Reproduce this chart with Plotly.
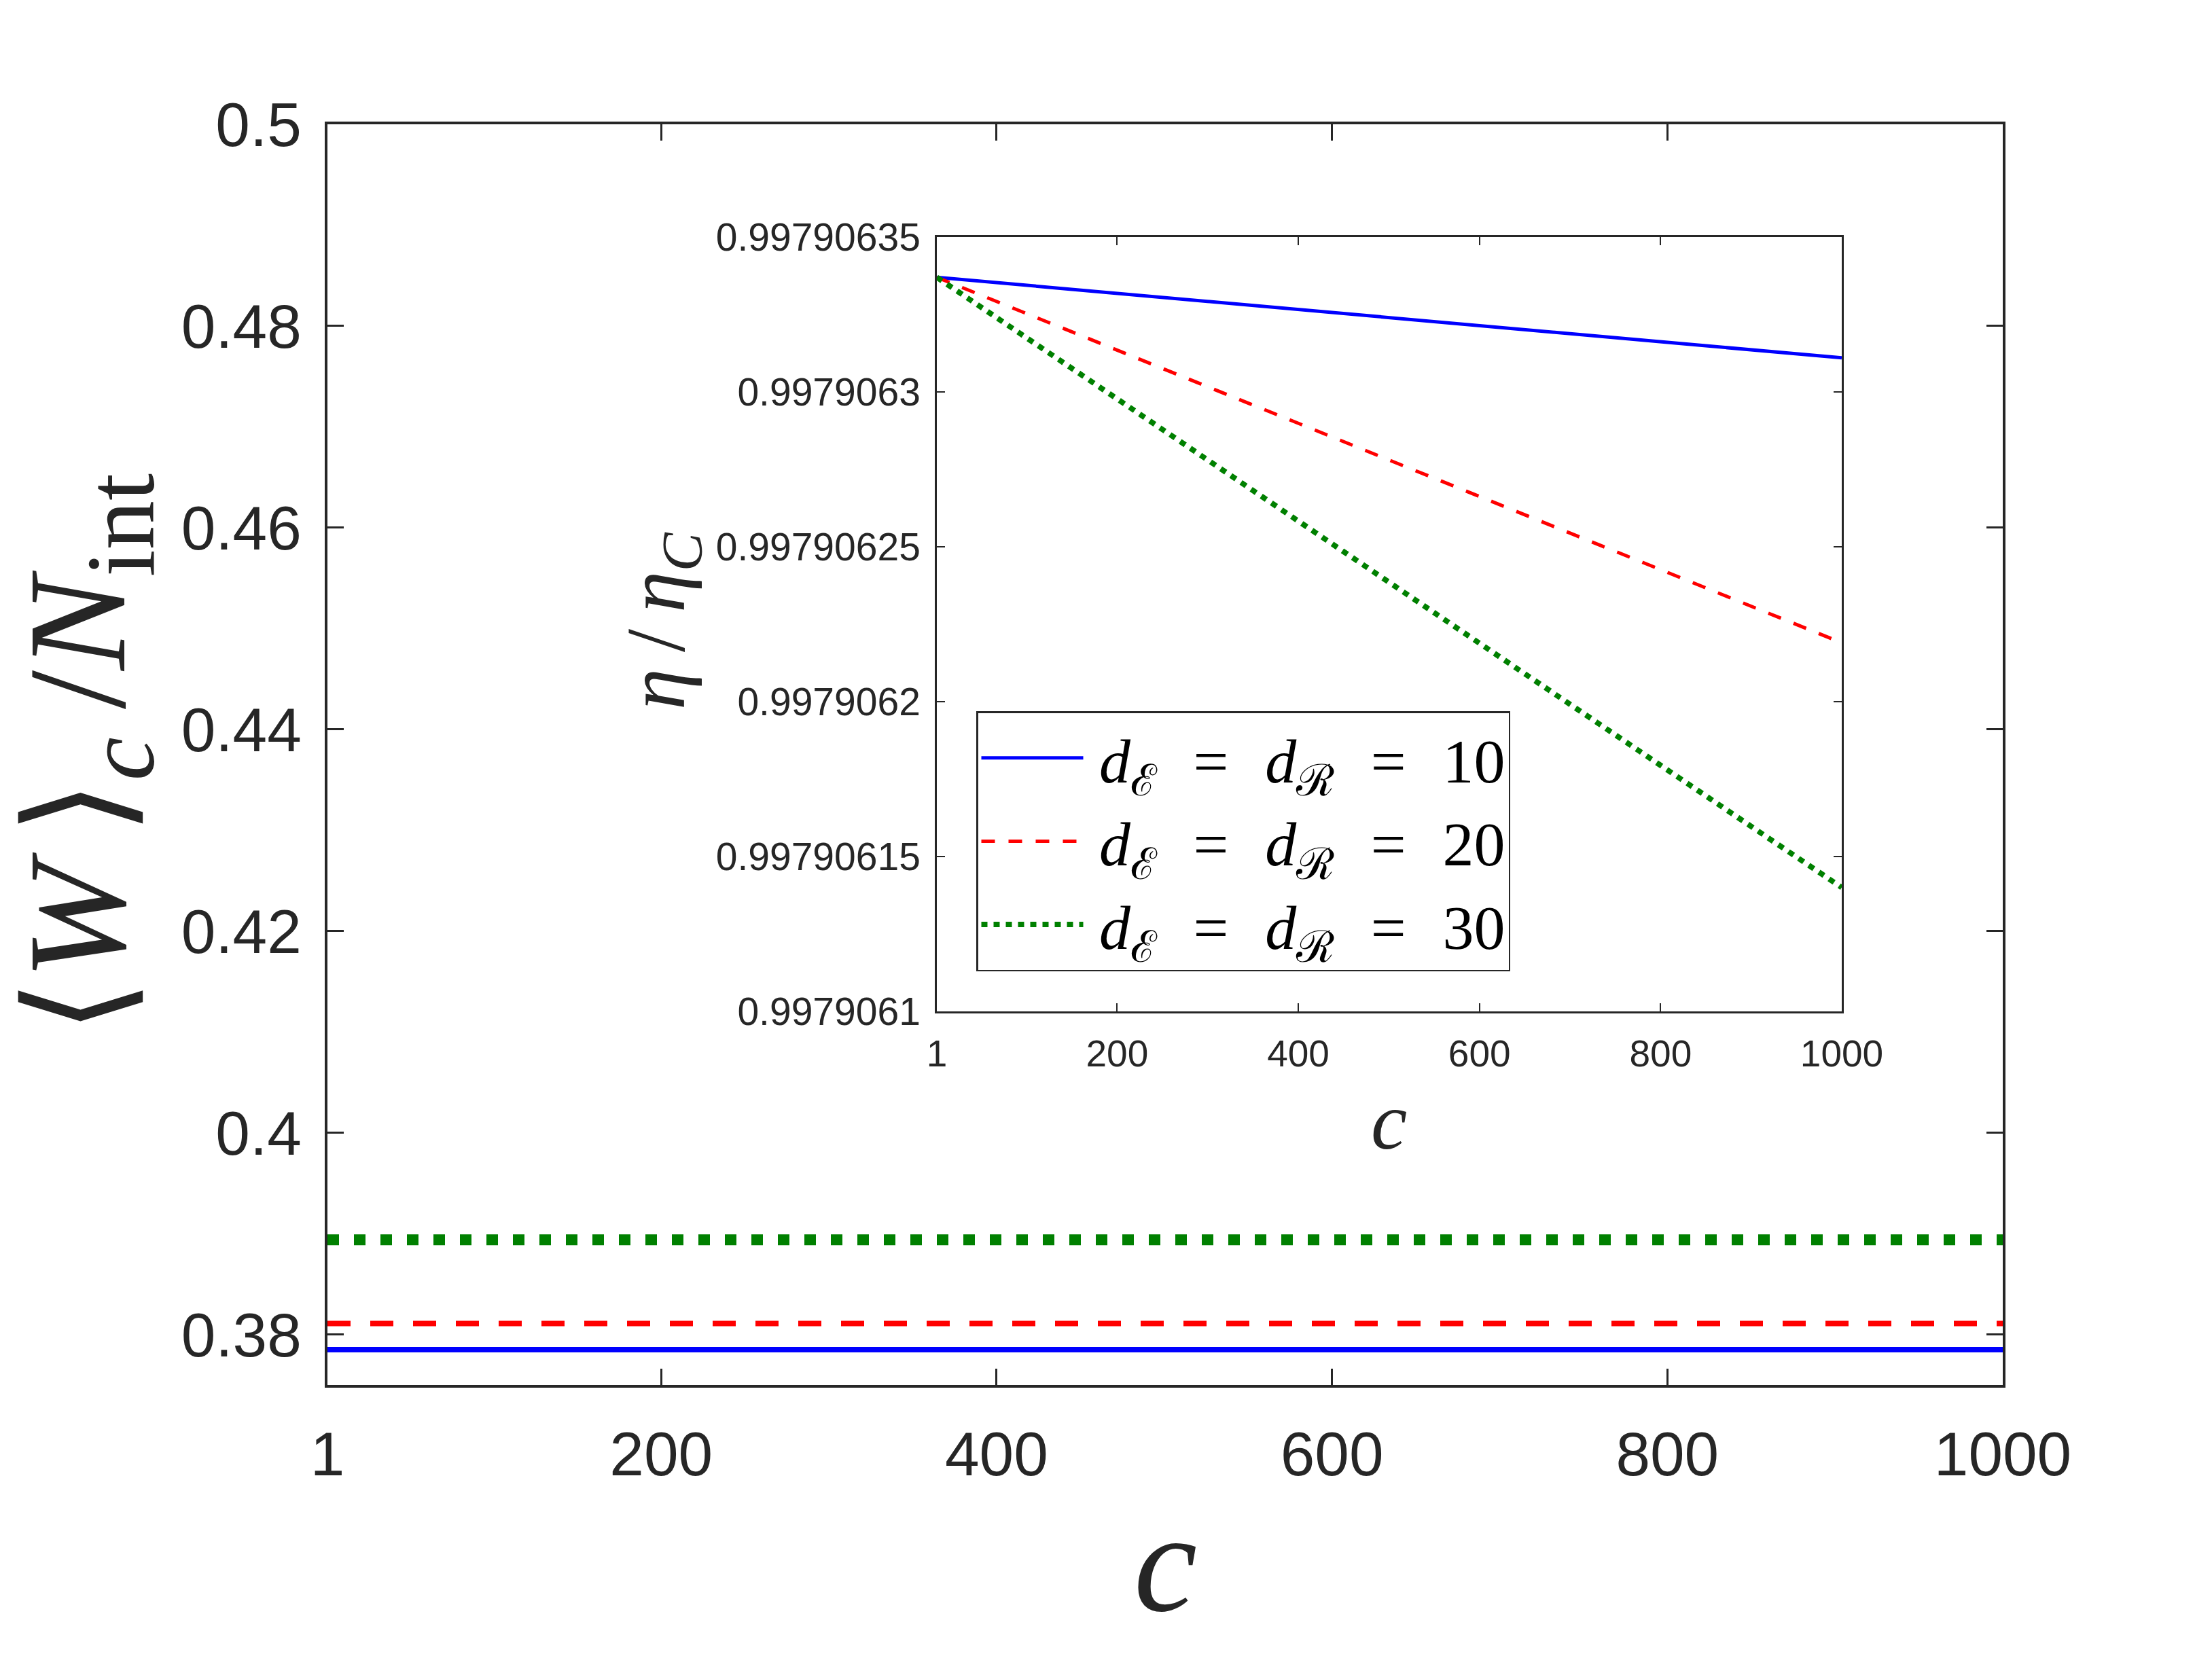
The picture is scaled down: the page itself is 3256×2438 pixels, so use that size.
import plotly.graph_objects as go

# ---------------- data ----------------
c_vals = [1, 1000]
EQ = "\u2002\u200a=\u200a\u2002"
series_names = [
    "\u2009<i>d</i><sub>ℰ</sub>" + EQ + "<i>d</i><sub>ℛ</sub>" + EQ + "10",
    "\u2009<i>d</i><sub>ℰ</sub>" + EQ + "<i>d</i><sub>ℛ</sub>" + EQ + "20",
    "\u2009<i>d</i><sub>ℰ</sub>" + EQ + "<i>d</i><sub>ℛ</sub>" + EQ + "30",
]
W_d10 = [0.3785, 0.3785]
W_d20 = [0.3811, 0.3811]
W_d30 = [0.3894, 0.3894]
eta_d10 = [0.997906337, 0.997906311]
eta_d20 = [0.997906337, 0.997906219]
eta_d30 = [0.997906337, 0.997906140]

x_tickvals = [1, 200, 400, 600, 800, 1000]
x_ticktext = ["1", "200", "400", "600", "800", "1000"]
main_y_tickvals = [0.38, 0.40, 0.42, 0.44, 0.46, 0.48, 0.50]
main_y_ticktext = ["0.38", "0.4", "0.42", "0.44", "0.46", "0.48", "0.5"]
inset_y_tickvals = [0.9979061, 0.99790615, 0.9979062, 0.99790625, 0.9979063, 0.99790635]
inset_y_ticktext = ["0.9979061", "0.99790615", "0.9979062", "0.99790625", "0.9979063", "0.99790635"]

colors = ["#0000FF", "#FF0000", "#008000"]
main_styles = [dict(width=8, dash="solid"), dict(width=8, dash="34px,29px"), dict(width=16, dash="17px,22px")]
inset_styles = [dict(width=5, dash="solid"), dict(width=5, dash="20px,20px"), dict(width=8, dash="9px,9px")]

W_all = [W_d10, W_d20, W_d30]
eta_all = [eta_d10, eta_d20, eta_d30]

W, H = 3256, 2438
X0, X1, Y0, Y1 = 482, 2948, 183, 2039   # main plot area in pixels
L, R, T, B = X0, W - X1, Y0, H - Y1
PW, PH = X1 - X0, Y1 - Y0


def px(x):
    return (x - X0) / PW


def py(y):
    return (Y1 - y) / PH


TICK_FONT = "Liberation Sans, Arial, sans-serif"
SERIF = "Liberation Serif, Times New Roman, serif"
AX = "#262626"

fig = go.Figure()
for i in range(3):
    fig.add_trace(go.Scatter(x=c_vals, y=W_all[i], mode="lines",
                             line=dict(color=colors[i], **main_styles[i]),
                             showlegend=False, xaxis="x", yaxis="y"))
for i in range(3):
    fig.add_trace(go.Scatter(x=c_vals, y=eta_all[i], mode="lines", name=series_names[i],
                             line=dict(color=colors[i], **inset_styles[i]),
                             showlegend=True, xaxis="x2", yaxis="y2"))

fig.update_layout(
    width=W, height=H,
    margin=dict(l=L, r=R, t=T, b=B, autoexpand=False),
    paper_bgcolor="white", plot_bgcolor="white",
    xaxis=dict(range=[1, 1000], tickvals=x_tickvals, ticktext=x_ticktext,
               showline=True, mirror="ticks", linecolor=AX, linewidth=4,
               ticks="inside", ticklen=24, tickwidth=2.5, tickcolor=AX,
               tickfont=dict(family=TICK_FONT, size=91, color=AX),
               ticklabelstandoff=20, showgrid=False, zeroline=False, domain=[0, 1]),
    yaxis=dict(range=[0.375, 0.5], tickvals=main_y_tickvals, ticktext=main_y_ticktext,
               showline=True, mirror="ticks", linecolor=AX, linewidth=4,
               ticks="inside", ticklen=24, tickwidth=2.5, tickcolor=AX,
               tickfont=dict(family=TICK_FONT, size=91, color=AX),
               ticklabelstandoff=16, showgrid=False, zeroline=False, domain=[0, 1]),
    xaxis2=dict(range=[1, 1000], tickvals=x_tickvals, ticktext=x_ticktext, anchor="y2",
                domain=[px(1379), px(2711)],
                showline=True, mirror="ticks", linecolor=AX, linewidth=2.5,
                ticks="inside", ticklen=12, tickwidth=2, tickcolor=AX,
                tickfont=dict(family=TICK_FONT, size=55, color=AX),
                ticklabelstandoff=12, showgrid=False, zeroline=False),
    yaxis2=dict(range=[0.9979061, 0.99790635], tickvals=inset_y_tickvals, ticktext=inset_y_ticktext,
                anchor="x2", domain=[py(1489), py(349)],
                showline=True, mirror="ticks", linecolor=AX, linewidth=2.5,
                ticks="inside", ticklen=12, tickwidth=2, tickcolor=AX,
                tickfont=dict(family=TICK_FONT, size=57, color=AX),
                ticklabelstandoff=10, showgrid=False, zeroline=False),
    legend=dict(x=px(1437), y=py(1047), xanchor="left", yanchor="top",
                bgcolor="white", bordercolor=AX, borderwidth=2.5,
                font=dict(family=SERIF, size=92, color="black"),
                itemwidth=150, traceorder="normal", tracegroupgap=0),
    annotations=[
        dict(text="⟨<i>W</i>\u2009⟩<sub><i>c</i></sub>\u2009/<i>N</i><sub>int</sub>",
             x=px(128), y=py(1110), xref="paper", yref="paper",
             xanchor="center", yanchor="middle", textangle=-90, showarrow=False,
             font=dict(family=SERIF, size=206, color=AX)),
        dict(text="<i>c</i>", x=px(1715), y=py(2300), xref="paper", yref="paper",
             xanchor="center", yanchor="middle", showarrow=False,
             font=dict(family=SERIF, size=210, color=AX)),
        dict(text="<i>c</i>", x=px(2045), y=py(1650), xref="paper", yref="paper",
             xanchor="center", yanchor="middle", showarrow=False,
             font=dict(family=SERIF, size=120, color=AX)),
        dict(text="<i>η</i>\u2009/\u2009<i>η</i><sub><i>C</i></sub>", x=px(975), y=py(914),
             xref="paper", yref="paper",
             xanchor="center", yanchor="middle", textangle=-90, showarrow=False,
             font=dict(family=SERIF, size=122, color=AX)),
    ],
)

fig.write_html("out.html")
